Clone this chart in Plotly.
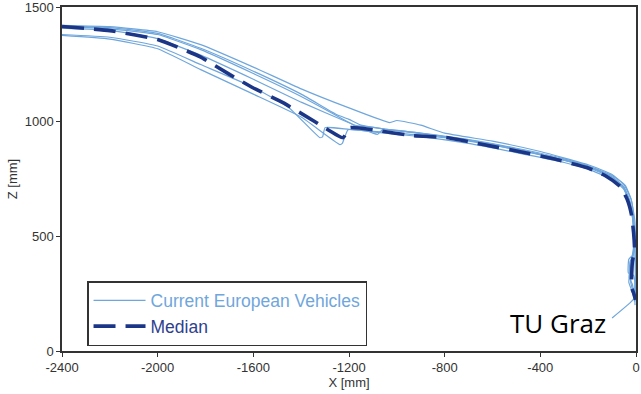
import plotly.graph_objects as go

# ---- data (mm) ----
x_ticks = [-2400, -2000, -1600, -1200, -800, -400, 0]
x_tick_labels = ["-2400", "-2000", "-1600", "-1200", "-800", "-400", "0"]
z_ticks = [0, 500, 1000, 1500]
z_tick_labels = ["0", "500", "1000", "1500"]

veh1_x = [-2400, -2200, -2000, -1820, -1600, -1400, -1200, -1030, -1000, -900, -800, -600, -400, -200, -100, -50, -20, -8, -4, -2, -6, -4]
veh1_z = [1420, 1414, 1392, 1336, 1238, 1143, 1060, 996, 1005, 985, 950, 915, 870, 812, 770, 725, 660, 560, 430, 330, 260, 200]

veh2_x = [-2400, -2200, -2000, -1820, -1600, -1400, -1206, -1180, -1100, -1000, -900, -700, -500, -300, -200, -100, -50, -25, -12, -8, -16, -22, -10, -5]
veh2_z = [1414, 1405, 1380, 1314, 1210, 1110, 1000, 985, 975, 960, 948, 918, 878, 832, 800, 755, 715, 650, 560, 450, 380, 300, 250, 215]

veh3_x = [-2400, -2200, -2000, -1820, -1600, -1450, -1321, -1310, -1300, -1200, -1100, -1000, -800, -600, -400, -200, -120, -60, -30, -15, -10, -12, -25, -28, -15, -8, -4]
veh3_z = [1380, 1368, 1330, 1249, 1150, 1060, 930, 935, 974, 966, 958, 950, 930, 898, 856, 805, 770, 722, 660, 590, 500, 420, 390, 320, 290, 250, 230]

veh4_x = [-2400, -2200, -2000, -1820, -1600, -1400, -1238, -1228, -1204, -1100, -1000, -900, -700, -500, -300, -200, -100, -50, -25, -12, -8, -18, -30, -20, -8, -25, -100]
veh4_z = [1376, 1360, 1318, 1227, 1120, 1020, 900, 905, 965, 955, 945, 935, 905, 865, 822, 793, 748, 705, 640, 560, 470, 400, 300, 270, 230, 210, 144]

veh5_x = [-2400, -2200, -2000, -1820, -1600, -1400, -1200, -1100, -1080, -1060, -1000, -800, -600, -400, -200, -100, -55, -28, -12, -5, -3, -2, -3]
veh5_z = [1408, 1398, 1362, 1290, 1185, 1085, 995, 950, 945, 965, 962, 935, 902, 858, 803, 760, 720, 660, 580, 480, 380, 280, 220]

veh6_x = [-2400, -2200, -2000, -1820, -1600, -1400, -1250, -1200, -1150, -1050, -900, -700, -500, -300, -200, -100, -45, -20, -5, -2, -12, -30, -32, -10, -3, -2]
veh6_z = [1418, 1410, 1385, 1320, 1220, 1120, 1030, 1010, 985, 968, 950, 922, 884, 838, 807, 765, 722, 660, 570, 470, 420, 400, 340, 330, 280, 240]

median_x = [-2400, -2200, -2000, -1824, -1698, -1602, -1476, -1342, -1225, -1196, -1078, -936, -785, -639, -484, -345, -203, -128, -65, -36, -19, -10, -6, -15, -19, -10, -2]
median_z = [1415, 1397, 1358, 1284, 1205, 1148, 1083, 1000, 930, 974, 961, 939, 930, 900, 869, 838, 799, 764, 716, 659, 594, 515, 441, 389, 279, 253, 223]

vehicles = [(veh1_x, veh1_z), (veh2_x, veh2_z), (veh3_x, veh3_z),
            (veh4_x, veh4_z), (veh5_x, veh5_z), (veh6_x, veh6_z)]

LIGHT = "#6fa6dc"
DARK = "#1c3687"
FONT = "Liberation Sans, Arial, sans-serif"

fig = go.Figure()
for i, (vx, vz) in enumerate(vehicles):
    fig.add_trace(go.Scatter(
        x=vx, y=vz, mode="lines",
        line=dict(color=LIGHT, width=1.2, shape="spline", smoothing=0.4),
        name="<span style='color:#6fa6dc'>Current European Vehicles</span>",
        legendgroup="veh", showlegend=(i == 0)))

fig.add_trace(go.Scatter(
    x=median_x, y=median_z, mode="lines",
    line=dict(color=DARK, width=3.6, dash="22px,10px", shape="spline", smoothing=0.4),
    name="<span style='color:#2e3f8f'>Median</span>"))

fig.update_layout(
    width=641, height=394,
    margin=dict(l=62, r=5, t=7, b=43, autoexpand=False),
    paper_bgcolor="white", plot_bgcolor="white",
    font=dict(family=FONT, size=13, color="#333"),
    showlegend=True,
    legend=dict(x=0.0436, y=0.0145, xanchor="left", yanchor="bottom",
                bgcolor="white", bordercolor="#333", borderwidth=1.5,
                font=dict(family=FONT, size=17.5),
                itemwidth=52, tracegroupgap=0),
    annotations=[dict(text="TU Graz", x=0.864, y=0.081, xref="paper", yref="paper",
                      xanchor="center", yanchor="middle", showarrow=False,
                      font=dict(family="Open Sans", size=26, color="black"))],
)
fig.update_xaxes(range=[-2400, 0], tickvals=x_ticks, ticktext=x_tick_labels,
                 ticks="outside", ticklen=4, ticklabeloverflow="allow", automargin=False,
                 tickcolor="#333", showline=True, linecolor="#333", linewidth=1.5,
                 mirror=True, showgrid=False, zeroline=False,
                 title=dict(text="X [mm]", standoff=2, font=dict(size=13)))
fig.update_yaxes(range=[0, 1500], tickvals=z_ticks, ticktext=z_tick_labels,
                 ticks="outside", ticklen=4, ticklabeloverflow="allow", automargin=False,
                 tickcolor="#333", showline=True, linecolor="#333", linewidth=1.5,
                 mirror=True, showgrid=False, zeroline=False,
                 title=dict(text="Z [mm]", standoff=4, font=dict(size=13)))

fig.write_html("out.html")
